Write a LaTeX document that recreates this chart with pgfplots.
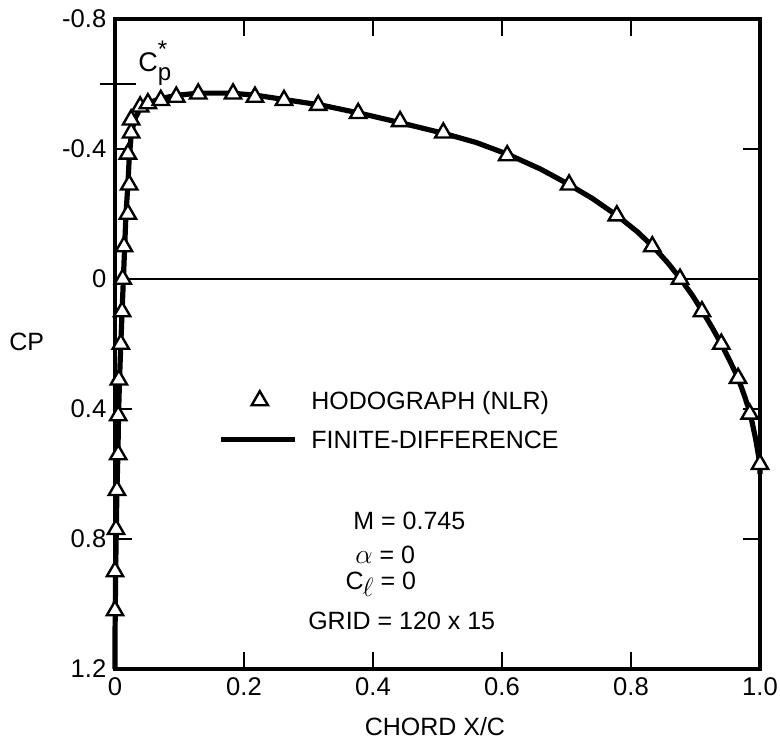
\documentclass[border=0pt]{standalone}
\usepackage{pgfplots}
\pgfplotsset{compat=1.18}
\usepackage{fontspec}
\setmainfont{Liberation Sans}
\pgfplotsset{
  mylineleg/.style={legend image code/.code={\draw[##1] (0pt,0pt) -- (37pt,0pt);}},
  mymarkleg/.style={legend image code/.code={\draw[mark repeat=2, mark phase=2, ##1] plot coordinates {(0pt,0pt) (19.5pt,0pt) (39pt,0pt)};}},
}
\begin{document}
\fontsize{12.5}{15}\selectfont
\begin{tikzpicture}
\begin{axis}[
  at={(0,0)}, anchor=south west,
  scale only axis, width=322.5pt, height=325pt,
  xmin=0, xmax=1, ymin=-0.8, ymax=1.2, y dir=reverse,
  xtick={0,0.2,0.4,0.6,0.8,1}, xticklabels={0,0.2,0.4,0.6,0.8,1.0},
  ytick={-0.8,-0.4,0,0.4,0.8,1.2}, yticklabels={-0.8,-0.4,0,0.4,0.8,1.2},
  tick align=inside, major tick length=8.5pt,
  every tick/.style={black, line width=1pt},
  axis line style={line width=1.6pt},
  tick label style={font=\fontsize{12.8}{15}\selectfont},
  /pgf/number format/assume math mode=true,
  clip=false,
  reverse legend,
  legend cell align=left,
  legend style={draw=none, fill=none, at={(axis cs:0.16,0.345)}, anchor=north west,
    inner sep=0pt, outer sep=0pt, row sep=10.5pt, column sep=7pt,
    nodes={inner sep=0pt, text height=9pt, text depth=0pt},
    font=\fontsize{12.5}{15}\selectfont},
]
\addplot[forget plot, line width=0.7pt] coordinates {(0,0) (1,0)};
\addplot[line width=2.6pt, black, no marks, mylineleg] coordinates {
(0.000,1.20) (0.000,1.10) (0.0005,1.00) (0.001,0.90) (0.002,0.77) (0.003,0.65)
(0.0045,0.54) (0.0055,0.42) (0.007,0.31) (0.009,0.20) (0.011,0.10) (0.013,0.0)
(0.015,-0.10) (0.017,-0.20) (0.020,-0.29) (0.022,-0.37) (0.025,-0.44) (0.030,-0.49)
(0.038,-0.52) (0.050,-0.54) (0.070,-0.555) (0.095,-0.565) (0.13,-0.572) (0.18,-0.572)
(0.22,-0.565) (0.26,-0.553) (0.32,-0.535) (0.38,-0.51) (0.44,-0.482) (0.51,-0.448)
(0.56,-0.42) (0.61,-0.383) (0.66,-0.338) (0.70,-0.295) (0.74,-0.248) (0.78,-0.193)
(0.81,-0.145) (0.835,-0.098) (0.857,-0.05) (0.877,0.0) (0.895,0.05) (0.911,0.10)
(0.926,0.15) (0.940,0.20) (0.954,0.255) (0.966,0.305) (0.976,0.36) (0.985,0.415)
(0.993,0.49) (1.0,0.57) (1.0,0.60)
};
\addlegendentry{FINITE-DIFFERENCE}
\addplot[only marks, mark=triangle*, mark size=4.7pt, mark options={fill=white, draw=black, line width=1.2pt}, mymarkleg] coordinates {
(0.0,1.02) (0.0,0.90) (0.0016,0.77) (0.003,0.65) (0.005,0.54) (0.005,0.42)
(0.006,0.31) (0.009,0.20) (0.011,0.10) (0.012,0.0) (0.014,-0.10) (0.020,-0.20)
(0.022,-0.29) (0.020,-0.385) (0.025,-0.45) (0.025,-0.49) (0.039,-0.53) (0.051,-0.54)
(0.071,-0.55) (0.095,-0.56) (0.129,-0.57) (0.183,-0.57) (0.217,-0.56) (0.262,-0.55)
(0.315,-0.535) (0.377,-0.51) (0.442,-0.485) (0.509,-0.45) (0.608,-0.38) (0.704,-0.29)
(0.778,-0.195) (0.833,-0.10) (0.876,0.0) (0.910,0.10) (0.940,0.20) (0.966,0.305)
(0.984,0.415) (1.0,0.57)
};
\addlegendentry{HODOGRAPH (NLR)}
\draw[line width=1pt] (axis cs:-0.023,-0.6) -- (axis cs:0.033,-0.6);
\node[anchor=base west, inner sep=0pt] at (axis cs:0.0357,-0.638)
  {\fontsize{13.5}{15}\selectfont C\makebox[0pt][l]{\raisebox{-0.6ex}{\fontsize{12}{13}\selectfont p}}\raisebox{1.0ex}{\fontsize{12}{13}\selectfont *}};
\node[inner sep=0pt] at (axis cs:-0.137,0.195) {CP};
\node[inner sep=0pt] at (axis cs:0.496,1.378) {CHORD X/C};
\node[anchor=base west, inner sep=0pt] at (axis cs:0.369,0.771) {M = 0.745};
\node[anchor=base west, inner sep=0pt] at (axis cs:0.372,0.875) {\scalebox{1.15}{$\alpha$} = 0};
\node[anchor=base west, inner sep=0pt] at (axis cs:0.357,0.955) {C\kern-0.5pt\raisebox{-0.5ex}{\scalebox{1.1}{$\ell$}} = 0};
\node[anchor=base west, inner sep=0pt] at (axis cs:0.299,1.078) {GRID = 120 x 15};
\coordinate (BL) at (axis cs:0,1.2);
\end{axis}
\pgfresetboundingbox
\useasboundingbox ([shift={(-57.5pt,-36pt)}]BL) rectangle ([shift={(332.5pt,334.5pt)}]BL);
\end{tikzpicture}
\end{document}
